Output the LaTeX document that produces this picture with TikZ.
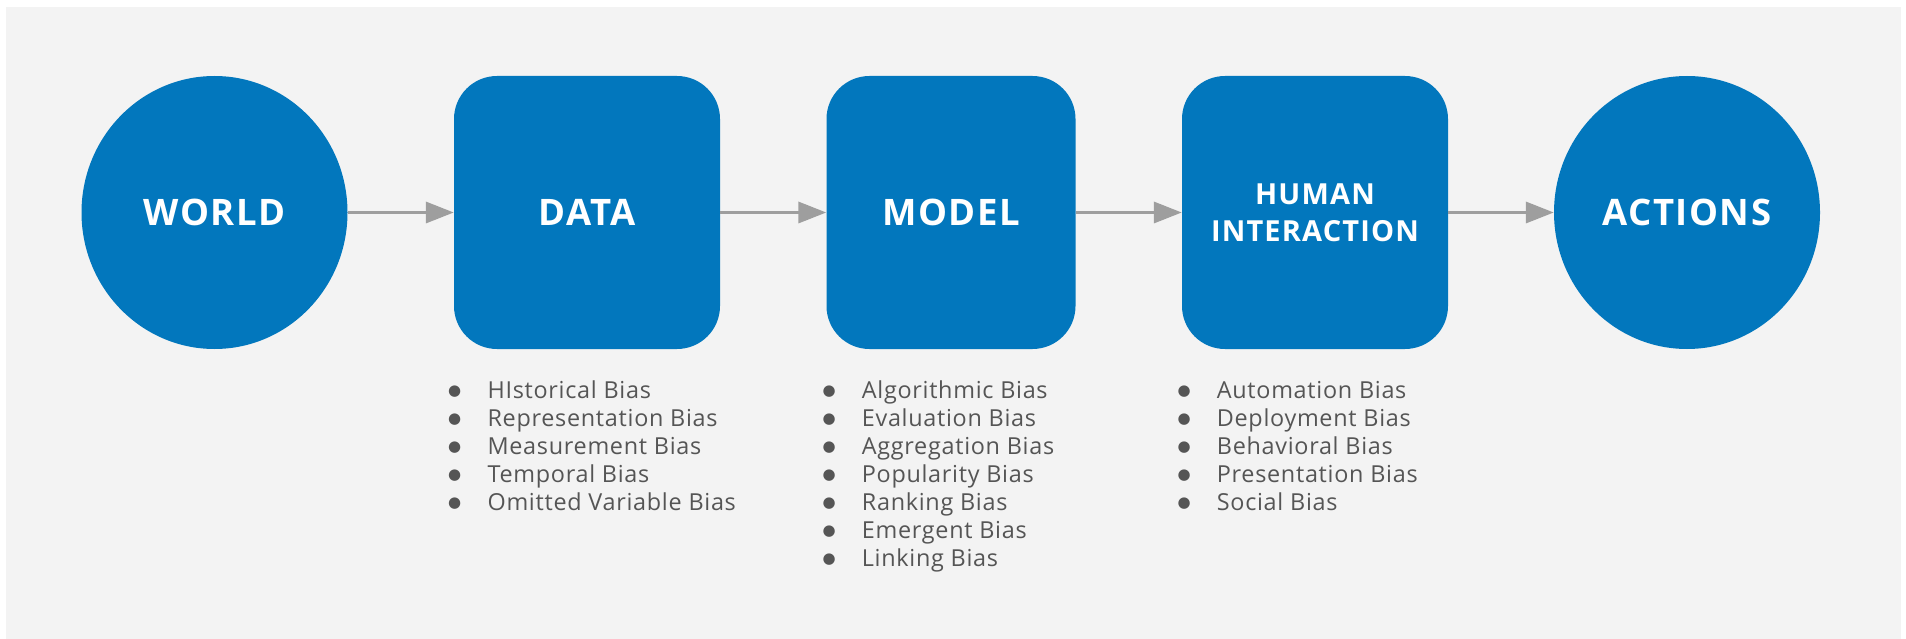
\documentclass[tikz,border=0pt]{standalone}
\usepackage{fontspec}
\setmainfont{Open Sans}
\newfontfamily\bulfont{DejaVu Sans}
\usetikzlibrary{arrows.meta,shapes.geometric}
\definecolor{bg}{HTML}{F3F3F3}
\definecolor{blu}{HTML}{0277BD}
\definecolor{arr}{HTML}{9E9E9E}
\definecolor{txt}{HTML}{555555}
\newcommand{\bul}{\makebox[39.4pt][l]{\raisebox{2.5pt}{\bulfont\fontsize{15}{15}\selectfont ●}}}
\begin{document}
\begin{tikzpicture}[x=1pt,y=-1pt,
  stage/.style={fill=blu, text=white, inner sep=0pt, align=center,
    font=\fontsize{36.5}{40}\selectfont\bfseries\addfontfeature{LetterSpace=4}},
  roundbox/.style={stage, rectangle, rounded corners=43pt, minimum height=273pt},
  bigcirc/.style={stage, ellipse, minimum width=266pt, minimum height=273pt},
  flow/.style={draw=arr, line width=3.5pt, -{Triangle[length=28pt,width=21pt]}},
  item/.style={anchor=base west, inner sep=0pt, text=txt,
    font=\fontsize{23.4}{28}\selectfont\addfontfeature{LetterSpace=3}}
]
\useasboundingbox (0,0) rectangle (1906,639);
\fill[bg] (6,7) rectangle (1901,639);

\node[bigcirc] (world) at (214.5,212.5) {WORLD};
\node[roundbox, minimum width=266pt] (data) at (587,212.5) {DATA};
\node[roundbox, minimum width=249pt] (model) at (951,212.5) {MODEL};
\node[roundbox, minimum width=266pt, font=\fontsize{29}{37}\selectfont\bfseries\addfontfeature{LetterSpace=4}] (human) at (1315,212.5) {HUMAN\\INTERACTION};
\node[bigcirc] (actions) at (1687,212.5) {ACTIONS};

\draw[flow] (world) -- (data);
\draw[flow] (data) -- (model);
\draw[flow] (model) -- (human);
\draw[flow] (human) -- (actions);

\foreach \t [count=\i] in {HIstorical Bias, Representation Bias, Measurement Bias, Temporal Bias, Omitted Variable Bias}
  \node[item] (d\i) at (448,{398+28*(\i-1)}) {\bul\t};
\foreach \t [count=\i] in {Algorithmic Bias, Evaluation Bias, Aggregation Bias, Popularity Bias, Ranking Bias, Emergent Bias, Linking Bias}
  \node[item] (m\i) at (822.3,{398+28*(\i-1)}) {\bul\t};
\foreach \t [count=\i] in {Automation Bias, Deployment Bias, Behavioral Bias, Presentation Bias, Social Bias}
  \node[item] (h\i) at (1177.3,{398+28*(\i-1)}) {\bul\t};
\end{tikzpicture}
\end{document}
